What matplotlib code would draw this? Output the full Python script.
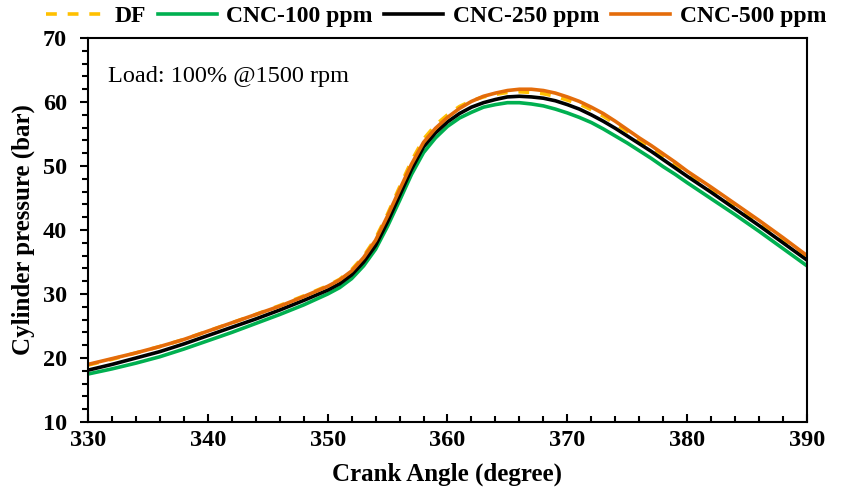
import matplotlib
matplotlib.use("Agg")
import matplotlib.pyplot as plt
from matplotlib.ticker import MultipleLocator

plt.rcParams['font.family'] = ['Liberation Serif', 'DejaVu Serif']

crank_angle = [330, 332, 334, 336, 338, 340, 342, 344, 346, 348, 350, 351, 352, 353, 354,
               355, 356, 357, 358, 359, 360, 361, 362, 363, 364, 365, 366, 367, 368, 369,
               370, 371, 372, 373, 374, 375, 376, 377, 378, 379, 380, 382, 384, 386, 388, 390]

df = [18.9, 19.8, 20.8, 21.8, 22.9, 24.2, 25.5, 26.8, 28.2, 29.7, 31.3, 32.3, 33.8, 35.9, 38.7,
      42.5, 46.7, 50.8, 54.2, 56.4, 58.0, 59.3, 60.2, 60.8, 61.2, 61.5, 61.6, 61.5, 61.3, 60.9,
      60.3, 59.7, 58.8, 57.8, 56.6, 55.4, 54.1, 52.9, 51.6, 50.3, 49.0, 46.5, 43.9, 41.2, 38.5, 35.8]

cnc_100 = [17.5, 18.3, 19.2, 20.2, 21.4, 22.7, 24.0, 25.4, 26.8, 28.3, 30.0, 31.0, 32.4, 34.4, 37.0,
           40.6, 44.6, 48.7, 52.1, 54.4, 56.2, 57.5, 58.4, 59.2, 59.6, 59.9, 59.9, 59.7, 59.4, 58.9,
           58.3, 57.6, 56.8, 55.8, 54.7, 53.6, 52.4, 51.2, 49.9, 48.7, 47.4, 44.9, 42.4, 39.8, 37.1, 34.4]

cnc_250 = [18.1, 19.0, 20.0, 21.0, 22.2, 23.5, 24.8, 26.1, 27.5, 29.0, 30.6, 31.6, 33.0, 35.0, 37.6,
           41.3, 45.4, 49.5, 53.0, 55.2, 56.9, 58.2, 59.2, 59.9, 60.4, 60.8, 60.9, 60.8, 60.6, 60.2,
           59.6, 58.9, 58.0, 57.0, 55.9, 54.7, 53.5, 52.3, 51.0, 49.7, 48.4, 45.9, 43.3, 40.7, 38.0, 35.3]

cnc_500 = [19.0, 19.9, 20.8, 21.8, 22.9, 24.2, 25.5, 26.8, 28.1, 29.6, 31.2, 32.2, 33.6, 35.7, 38.4,
           42.2, 46.3, 50.3, 53.7, 55.9, 57.6, 59.0, 60.1, 60.9, 61.4, 61.8, 62.0, 62.0, 61.8, 61.4,
           60.8, 60.1, 59.2, 58.2, 57.0, 55.7, 54.4, 53.2, 51.9, 50.6, 49.2, 46.7, 44.1, 41.5, 38.8, 36.0]

fig = plt.figure(figsize=(8.41, 4.91), dpi=100)
ax = fig.add_axes([0.1046, 0.1405, 0.855, 0.782])

ax.plot(crank_angle, df, color='#FFC000', lw=2.6, ls=(0, (3, 3)), label='DF')
ax.plot(crank_angle, cnc_100, color='#00B050', lw=2.6, label='CNC-100 ppm')
ax.plot(crank_angle, cnc_250, color='black', lw=2.6, label='CNC-250 ppm')
ax.plot(crank_angle, cnc_500, color='#E46C0A', lw=2.6, label='CNC-500 ppm')

ax.set_xlim(330, 390)
ax.set_ylim(10, 70)
ax.xaxis.set_major_locator(MultipleLocator(10))
ax.xaxis.set_minor_locator(MultipleLocator(2))
ax.yaxis.set_major_locator(MultipleLocator(10))
ax.yaxis.set_minor_locator(MultipleLocator(2))

for s in ax.spines.values():
    s.set_linewidth(1.5)
ax.tick_params(axis='x', which='both', direction='in', width=1.5, labelsize=17.5, pad=6)
ax.tick_params(axis='x', which='major', length=6)
ax.tick_params(axis='x', which='minor', length=4)
ax.tick_params(axis='y', which='both', direction='out', width=1.5, labelsize=17.5, pad=9)
ax.tick_params(axis='y', which='major', length=6)
ax.tick_params(axis='y', which='minor', length=4)
for lab in ax.get_xticklabels() + ax.get_yticklabels():
    lab.set_fontweight('bold')

ax.set_xlabel('Crank Angle (degree)', fontsize=18, fontweight='bold', labelpad=8)
ax.set_ylabel('Cylinder pressure (bar)', fontsize=18, fontweight='bold', labelpad=6)

ax.text(0.028, 0.885, 'Load: 100% @1500 rpm', transform=ax.transAxes, fontsize=17.5)

fig.legend(loc='center', bbox_to_anchor=(436 / 841, 0.967), ncol=4, frameon=False,
           prop={'size': 17, 'weight': 'bold'}, handlelength=2.5, handletextpad=0.4,
           columnspacing=0.5, borderaxespad=0)

fig.savefig('out.png', dpi=100)
